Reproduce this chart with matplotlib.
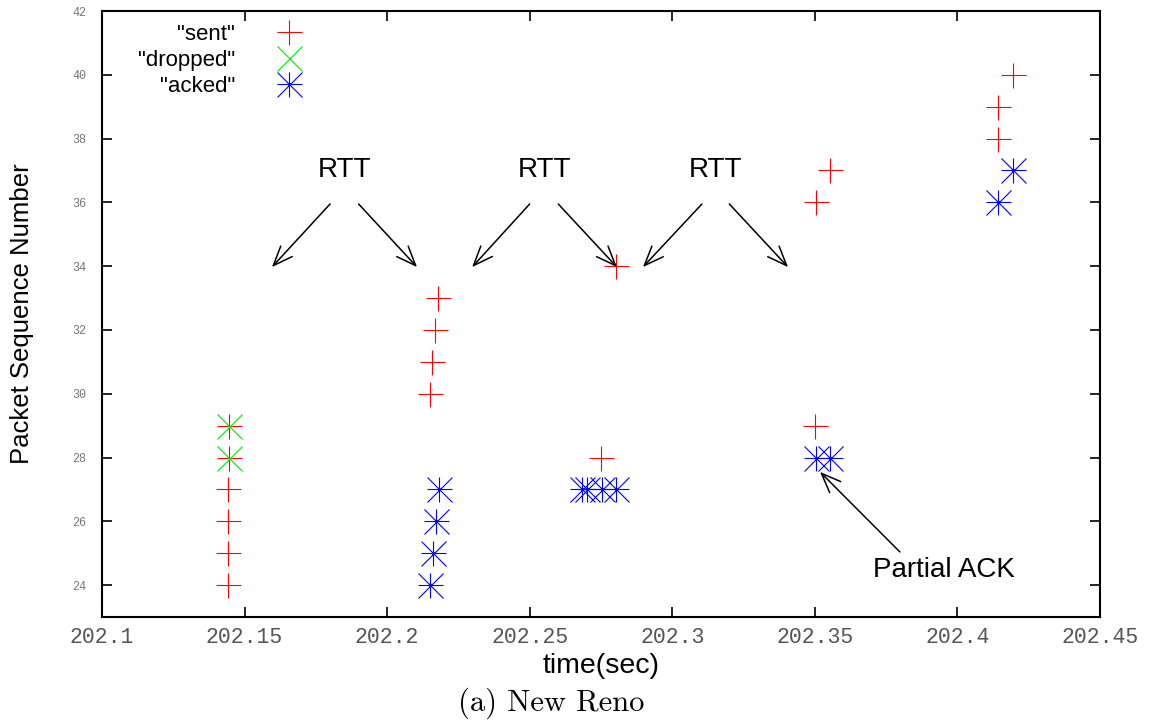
import matplotlib
matplotlib.use("Agg")
import matplotlib.pyplot as plt
from matplotlib.lines import Line2D

# packet trace
sent_t = [202.1441, 202.1441, 202.1441, 202.1441, 202.1446, 202.1446,
          202.2150, 202.2157, 202.2168, 202.2178,
          202.2750, 202.2803,
          202.3500, 202.3504, 202.3553,
          202.4142, 202.4142, 202.4195]
sent_seq = [24, 25, 26, 27, 28, 29,
            30, 31, 32, 33,
            28, 34,
            29, 36, 37,
            38, 39, 40]

dropped_t = [202.1446, 202.1446]
dropped_seq = [28, 29]

acked_t = [202.2150, 202.2160, 202.2170, 202.2181,
           202.2682, 202.2702, 202.2752, 202.2802,
           202.3504, 202.3553,
           202.4142, 202.4195]
acked_seq = [24, 25, 26, 27,
             27, 27, 27, 27,
             28, 28,
             36, 37]

x_ticks = [202.1, 202.15, 202.2, 202.25, 202.3, 202.35, 202.4, 202.45]
x_tick_labels = ["202.1", "202.15", "202.2", "202.25", "202.3", "202.35", "202.4", "202.45"]
y_ticks = list(range(24, 43, 2))

# RTT labels and their arrows (text position, arrow tail, arrow head)
rtt_labels = [(202.185, 37.0), (202.2553, 37.0), (202.315, 37.0)]
rtt_arrows = [((202.18, 35.95), (202.1596, 33.97)),
              ((202.19, 35.95), (202.2105, 33.97)),
              ((202.25, 35.95), (202.2298, 33.97)),
              ((202.26, 35.95), (202.2806, 33.97)),
              ((202.3104, 35.95), (202.2897, 33.97)),
              ((202.32, 35.95), (202.3406, 33.97))]
partial_text = (202.3704, 24.48)
partial_arrow = ((202.3798, 25.04), (202.3518, 27.55))

SANS = "Liberation Sans"
MONO = "Liberation Mono"

fig = plt.figure(figsize=(11.6, 7.25), dpi=100)
ax = fig.add_axes([0.0879, 0.149, 0.8604, 0.8358])

ms = 18
lw = 0.8
ax.plot(sent_t, sent_seq, ls="none", marker="+", ms=ms, mew=lw, color="#ff0000")
ax.plot(dropped_t, dropped_seq, ls="none", marker="x", ms=ms, mew=lw, color="#00ee00")
ax.plot(acked_t, acked_seq, ls="none", marker="+", ms=ms, mew=lw, color="#0000ff")
ax.plot(acked_t, acked_seq, ls="none", marker="x", ms=ms, mew=lw, color="#0000ff")
ax.plot(acked_t, acked_seq, ls="none", marker="o", ms=2.5, mew=0, color="#0000ff")

ax.set_xlim(202.1, 202.45)
ax.set_ylim(23, 42)
ax.set_xticks(x_ticks)
ax.set_xticklabels(x_tick_labels, family=MONO, fontsize=15.5, color="#555555")
ax.set_yticks(y_ticks)
ax.set_yticklabels([str(v) for v in y_ticks], family=MONO, fontsize=8.5, color="#777777")
ax.tick_params(axis="both", direction="in", length=7, width=1.2,
               top=True, right=True)
ax.tick_params(axis="x", pad=7)
ax.tick_params(axis="y", pad=11)
for sp in ax.spines.values():
    sp.set_linewidth(1.5)

ax.set_xlabel("time(sec)", family=SANS, fontsize=20.5, va="center")
ax.xaxis.set_label_coords(0.5, -0.081)
ax.set_ylabel("Packet Sequence Number", family=SANS, fontsize=18.5, va="center")
ax.yaxis.set_label_coords(-0.08, 0.5)

arrow_props = dict(arrowstyle="->,head_length=0.7,head_width=0.28", lw=1.1,
                   color="black", shrinkA=0, shrinkB=0, mutation_scale=20)
for x, y in rtt_labels:
    ax.text(x, y, "RTT", family=SANS, fontsize=20, ha="center", va="center")
for tail, head in rtt_arrows:
    ax.annotate("", xy=head, xytext=tail, arrowprops=arrow_props)
ax.text(partial_text[0], partial_text[1], "Partial ACK", family=SANS,
        fontsize=20, ha="left", va="center")
ax.annotate("", xy=partial_arrow[1], xytext=partial_arrow[0], arrowprops=arrow_props)

# legend: label on the left, sample on the right, like gnuplot
h_sent = Line2D([], [], ls="none", marker="+", ms=ms, mew=lw, color="#ff0000")
h_drop = Line2D([], [], ls="none", marker="x", ms=ms, mew=lw, color="#00ee00")
h_ack = (Line2D([], [], ls="none", marker="+", ms=ms, mew=lw, color="#0000ff"),
         Line2D([], [], ls="none", marker="x", ms=ms, mew=lw, color="#0000ff"),
         Line2D([], [], ls="none", marker="o", ms=2.5, mew=0, color="#0000ff"))
leg = ax.legend([h_sent, h_drop, h_ack], ['"sent"', '"dropped"', '"acked"'],
                loc="upper left", bbox_to_anchor=(0.016, 1.012), markerfirst=False,
                frameon=False, numpoints=1, handlelength=1.6, handletextpad=1.6,
                labelspacing=0.22, prop={"family": SANS, "size": 16})

fig.text(0.475, 0.03, "(a) New Reno", family="cmr10", fontsize=22,
         ha="center", va="center")

fig.savefig("out.png", dpi=100)
